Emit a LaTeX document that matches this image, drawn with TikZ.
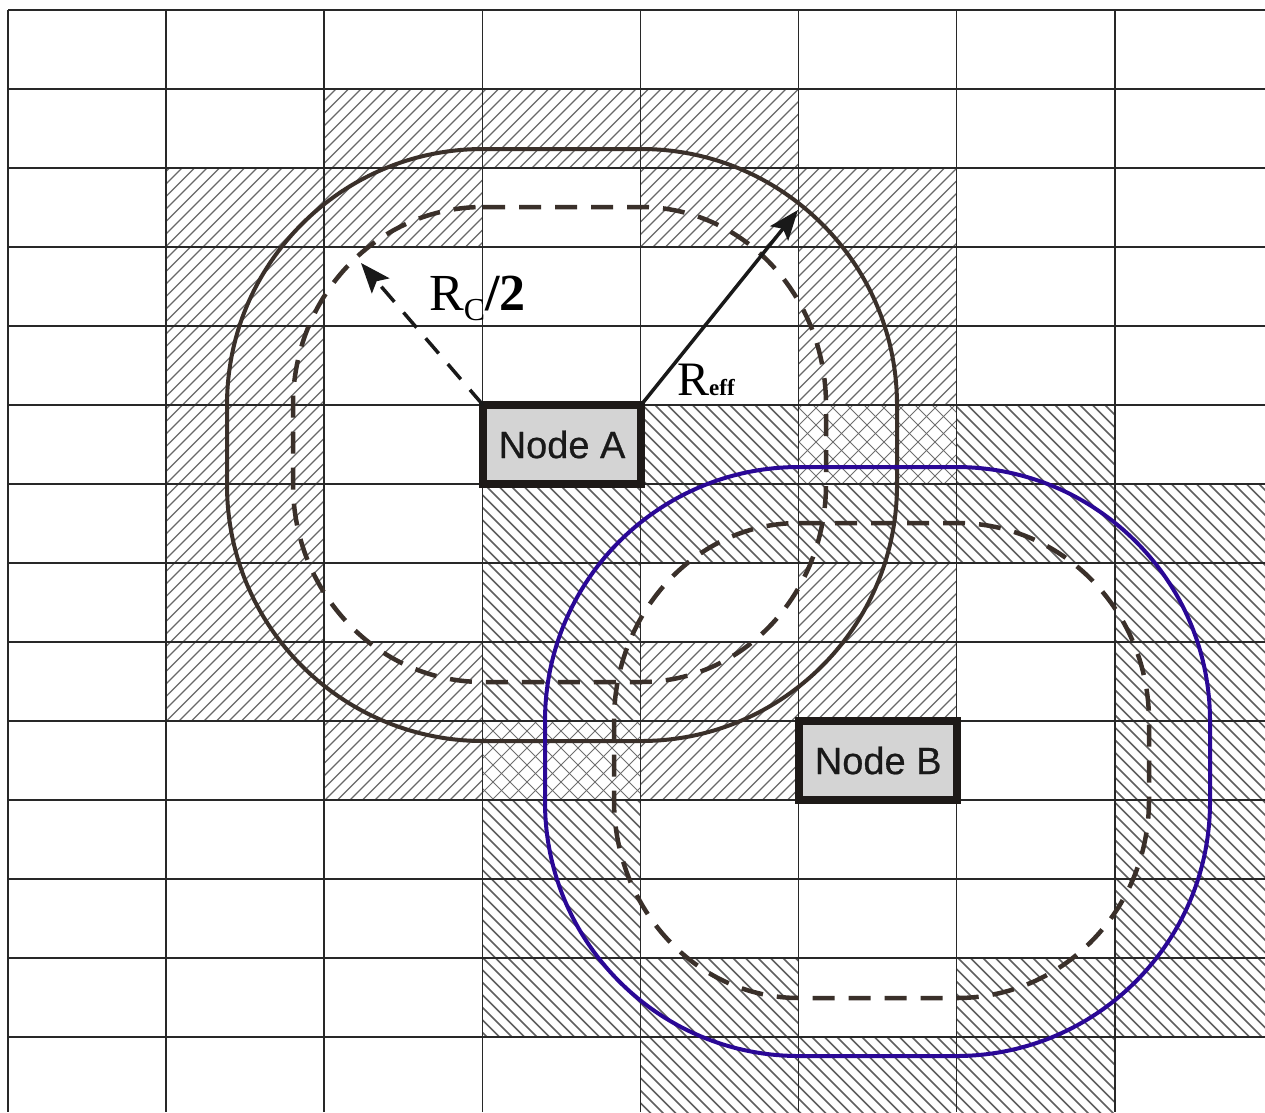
\documentclass[tikz,border=0pt]{standalone}
\usepackage{fontspec}
\setmainfont{Liberation Serif}
\newfontfamily\boxfont[FakeBold=0.6]{Liberation Sans}
\usetikzlibrary{arrows.meta}

\definecolor{gridc}{RGB}{40,40,40}
\definecolor{contA}{RGB}{58,48,42}
\definecolor{contB}{RGB}{42,8,150}
\definecolor{hatchAc}{RGB}{105,105,105}
\definecolor{hatchBc}{RGB}{95,95,95}
\definecolor{crossc}{RGB}{110,110,110}
\definecolor{boxfill}{RGB}{212,212,212}
\definecolor{boxline}{RGB}{30,26,24}

% cell geometry: origin (8,10), cell 158.1 x 79 (y grows downward)
\newcommand\cellbounds[2]{%
  \pgfmathsetmacro\hxa{8+#1*158.1}\pgfmathsetmacro\hya{10+#2*79}%
  \pgfmathsetmacro\hxb{\hxa+158.1}\pgfmathsetmacro\hyb{\hya+79}}

% "///" hatching of a cell
\newcommand\hatchNE[3][hatchA]{%
  \cellbounds{#2}{#3}%
  \pgfmathtruncatemacro\hka{floor((\hxa+\hya)/12.5)-1}%
  \pgfmathtruncatemacro\hkb{ceil((\hxb+\hyb)/12.5)+1}%
  \begin{scope}
    \clip (\hxa,\hya) rectangle (\hxb,\hyb);
    \foreach \k in {\hka,...,\hkb}
      \draw[#1] (\k*12.5-\hyb,\hyb) -- (\k*12.5-\hya,\hya);
  \end{scope}}

% "\\\" hatching of a cell
\newcommand\hatchNW[3][hatchB]{%
  \cellbounds{#2}{#3}%
  \pgfmathtruncatemacro\hka{floor((\hxa-\hyb)/12.5)-1}%
  \pgfmathtruncatemacro\hkb{ceil((\hxb-\hya)/12.5)+1}%
  \begin{scope}
    \clip (\hxa,\hya) rectangle (\hxb,\hyb);
    \foreach \k in {\hka,...,\hkb}
      \draw[#1] (\k*12.5+\hya,\hya) -- (\k*12.5+\hyb,\hyb);
  \end{scope}}

% cross hatching of a cell
\newcommand\hatchX[2]{%
  \cellbounds{#1}{#2}%
  \pgfmathtruncatemacro\hka{floor((\hxa+\hya)/17)-1}%
  \pgfmathtruncatemacro\hkb{ceil((\hxb+\hyb)/17)+1}%
  \pgfmathtruncatemacro\hkc{floor((\hxa-\hyb)/17)-1}%
  \pgfmathtruncatemacro\hkd{ceil((\hxb-\hya)/17)+1}%
  \begin{scope}
    \clip (\hxa,\hya) rectangle (\hxb,\hyb);
    \foreach \k in {\hka,...,\hkb}
      \draw[crossh] (\k*17-\hyb,\hyb) -- (\k*17-\hya,\hya);
    \foreach \k in {\hkc,...,\hkd}
      \draw[crossh] (\k*17+\hya,\hya) -- (\k*17+\hyb,\hyb);
  \end{scope}}

\begin{document}
\begin{tikzpicture}[x=1pt,y=-1pt,
  hatchA/.style={draw=hatchAc,line width=1.3pt},
  hatchB/.style={draw=hatchBc,line width=1.5pt},
  crossh/.style={draw=crossc,line width=0.8pt},
  gridline/.style={draw=gridc,line width=1.6pt},
  ringA/.style={draw=contA,line width=4pt},
  ringAdash/.style={draw=contA,line width=4.5pt,dash pattern=on 22pt off 14pt},
  ringB/.style={draw=contB,line width=4pt},
  ringBdash/.style={draw=contA,line width=4.5pt,dash pattern=on 22pt off 14pt},
  nodebox/.style={draw=boxline,fill=boxfill,line width=8pt,outer sep=0pt,
    minimum width=158.1pt,minimum height=79pt,inner sep=0pt,
    font=\boxfont\fontsize{38}{38}\selectfont,text=black!90},
  radius arrow/.style={draw=black!90,line width=3.5pt,
    -{Stealth[length=30pt,width=23pt,inset=6pt]}},
]
\useasboundingbox (0,0) rectangle (1265,1112);
\fill[white] (0,0) rectangle (1265,1112);

% cells around Node A
\foreach \c/\r in {2/1,3/1,4/1, 1/2,2/2,4/2,5/2, 1/3,5/3, 1/4,5/4, 1/5, 1/6, 1/7,5/7,
                   1/8,2/8,4/8,5/8, 2/9,4/9}
  {\hatchNE{\c}{\r}}
% cells around Node B
\foreach \c/\r in {4/5,6/5, 3/6,4/6,5/6,6/6,7/6, 3/7,7/7, 3/8,7/8, 7/9,
                   3/10,7/10, 3/11,7/11, 3/12,4/12,6/12,7/12, 4/13,5/13,6/13}
  {\hatchNW{\c}{\r}}
% cells shared by both
\hatchX{5}{5}
\hatchX{3}{9}

% grid
\foreach \r in {0,...,13}
  \draw[gridline] (8,10+\r*79) -- (1265,10+\r*79);
\foreach \c in {0,...,7}
  \draw[gridline] (8+\c*158.1,10) -- (8+\c*158.1,1112);

% range contours of Node A
\draw[ringAdash] (483,207) -- (641,207)
  arc[start angle=-90,end angle=0,x radius=185,y radius=198] -- (826,484)
  arc[start angle=0,end angle=90,x radius=185,y radius=198] -- (483,682)
  arc[start angle=90,end angle=180,x radius=190,y radius=198] -- (293,405)
  arc[start angle=180,end angle=270,x radius=190,y radius=198] -- cycle;
\draw[ringA,rounded corners=256pt] (227,149) rectangle (897,741);

% range contours of Node B
\draw[ringBdash] (799,523) -- (957,523)
  arc[start angle=-90,end angle=0,x radius=192,y radius=198] -- (1149,800)
  arc[start angle=0,end angle=90,x radius=192,y radius=198] -- (799,998)
  arc[start angle=90,end angle=180,x radius=185,y radius=198] -- (614,721)
  arc[start angle=180,end angle=270,x radius=185,y radius=198] -- cycle;
\draw[ringB,rounded corners=254pt] (545,467) rectangle (1210,1056);

% nodes
\node[nodebox] (nodeA) at (562.05,444.5) {Node A};
\node[nodebox] (nodeB) at (878.2,760.5) {Node B};

% radii
\coordinate (rctip) at (361,263);
\coordinate (refftip) at (798,210);
\draw[radius arrow,dash pattern=on 20pt off 14pt] (nodeA.north west) -- (rctip);
\draw[radius arrow] (nodeA.north east) -- (refftip);

\node[anchor=base west,inner sep=0pt] (rclabel) at (429,310)
  {\fontsize{52}{52}\selectfont R\raisebox{-10pt}{\fontsize{32}{32}\selectfont C}\textbf{/2}};
\node[anchor=base west,inner sep=0pt] (refflabel) at (677,395)
  {\fontsize{48}{48}\selectfont R\fontsize{23}{23}\selectfont\textbf{eff}};
\end{tikzpicture}
\end{document}
